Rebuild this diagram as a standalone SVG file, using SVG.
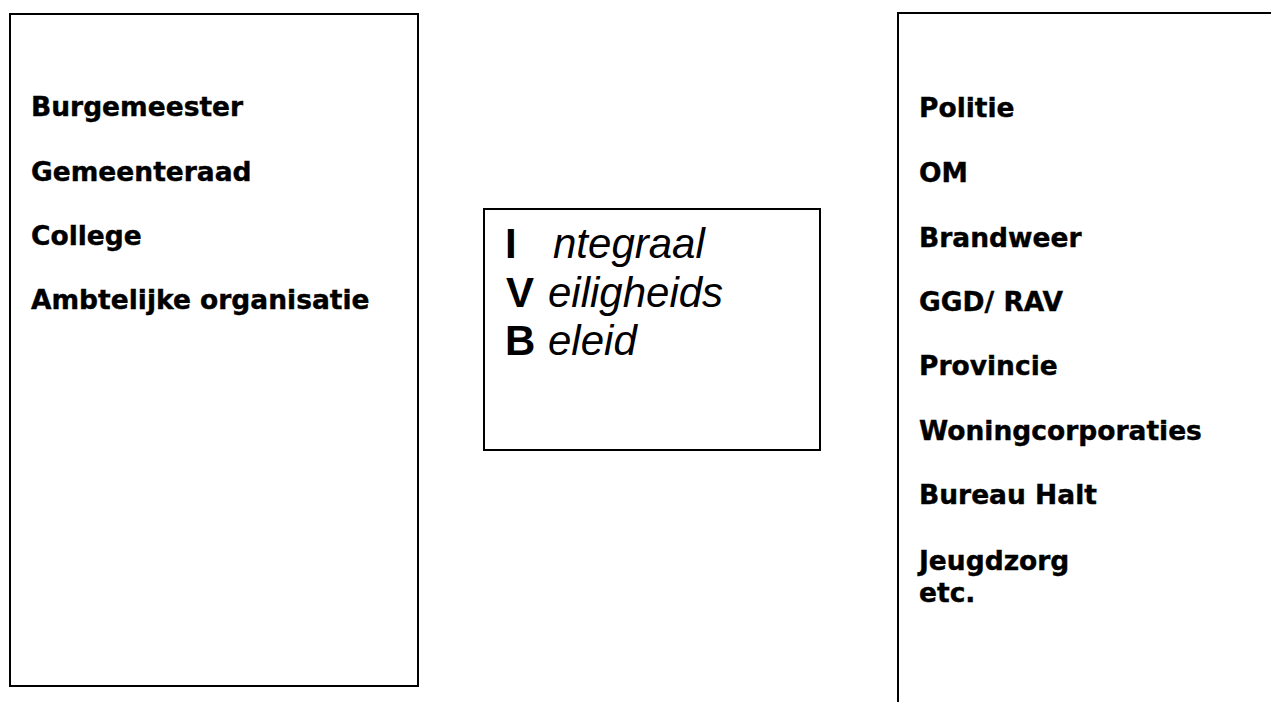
<svg xmlns="http://www.w3.org/2000/svg" width="1271" height="702" viewBox="0 0 1271 702">
<style>
.box{fill:#fff;stroke:#000;stroke-width:2}
.lbl{font-family:"DejaVu Sans",Verdana,sans-serif;font-weight:bold;font-size:26.5px;fill:#000;stroke:#000;stroke-width:0.4}
.b{font-family:"Liberation Sans",Arial,sans-serif;font-weight:bold;font-size:42px;fill:#000}
.i{font-family:"Liberation Sans",Arial,sans-serif;font-style:italic;font-size:42px;fill:#000}
</style>
<rect width="1271" height="702" fill="#fff"/>
<g id="gemeente">
<rect class="box" x="10" y="14" width="408" height="672"/>
<text class="lbl" x="31" y="116">Burgemeester</text>
<text class="lbl" x="31" y="181">Gemeenteraad</text>
<text class="lbl" x="31" y="245">College</text>
<text class="lbl" x="31" y="309">Ambtelijke organisatie</text>
</g>
<g id="ivb">
<rect class="box" x="484" y="209" width="336" height="241"/>
<text x="505" y="258"><tspan class="b">I</tspan><tspan class="i" x="553">ntegraal</tspan></text>
<text x="506" y="307"><tspan class="b">V</tspan><tspan class="i" x="548">eiligheids</tspan></text>
<text x="505" y="355"><tspan class="b">B</tspan><tspan class="i" x="548">eleid</tspan></text>
</g>
<g id="partners">
<path class="box" fill="none" d="M898 704 V13 H1273"/>
<text class="lbl" x="919" y="117">Politie</text>
<text class="lbl" x="919" y="182">OM</text>
<text class="lbl" x="919" y="247">Brandweer</text>
<text class="lbl" x="919" y="311">GGD/ RAV</text>
<text class="lbl" x="919" y="375">Provincie</text>
<text class="lbl" x="919" y="440">Woningcorporaties</text>
<text class="lbl" x="919" y="504">Bureau Halt</text>
<text class="lbl" x="919" y="570">Jeugdzorg</text>
<text class="lbl" x="919" y="602">etc.</text>
</g>
<g id="connectors"></g>
</svg>
